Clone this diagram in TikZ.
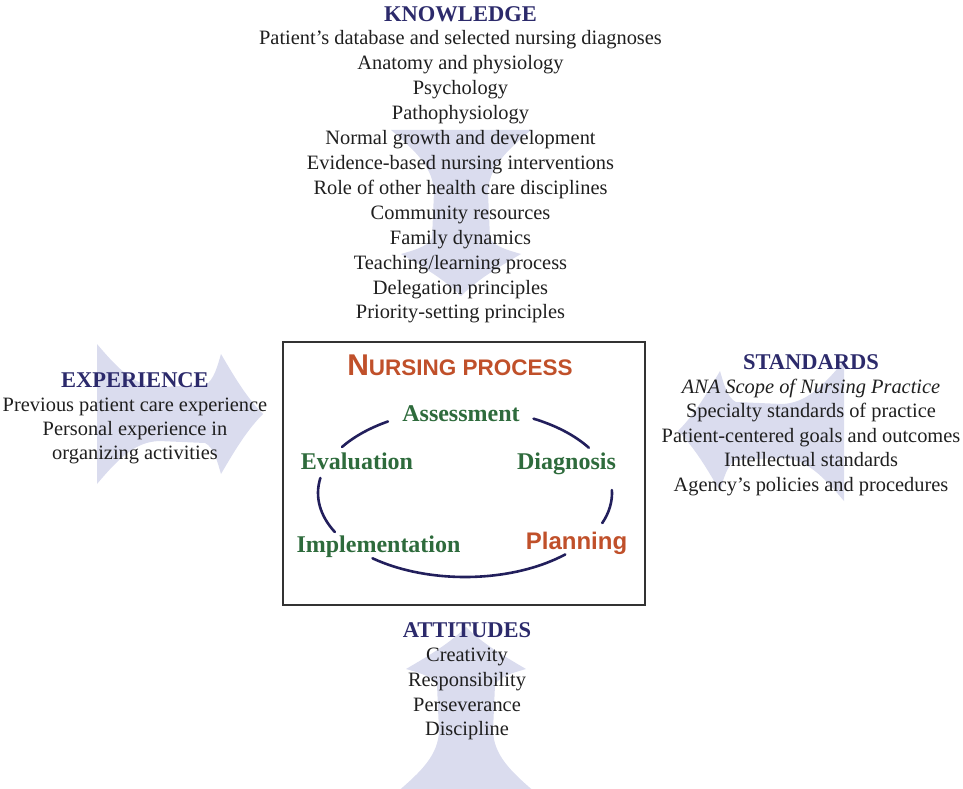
\documentclass[tikz,border=0pt]{standalone}
\usepackage{fontspec}
\setmainfont{Liberation Serif}
\newfontfamily\procfont{Liberation Sans}

\definecolor{headnavy}{HTML}{2C2A6B}
\definecolor{arcnavy}{HTML}{221F5C}
\definecolor{stagegreen}{HTML}{2E6B3C}
\definecolor{procorange}{HTML}{C0502A}
\definecolor{arrowfill}{HTML}{DADCEE}
\definecolor{boxgray}{HTML}{333333}

\tikzset{
	heading/.style={font=\fontsize{22.5}{27}\selectfont\bfseries, text=headnavy, inner sep=0pt, anchor=base},
	listitem/.style={font=\fontsize{20.4}{25}\selectfont, text=black!88, inner sep=0pt, anchor=base},
	stage/.style={font=\fontsize{24}{28}\selectfont\bfseries, text=stagegreen, inner sep=0pt, anchor=base},
	cyclearc/.style={draw=arcnavy, line width=2.6pt, line cap=round},
	procbox/.style={draw=boxgray, line width=1.8pt, minimum width=362pt, minimum height=263pt, inner sep=0pt},
	bigarrow/.pic={
		\fill[arrowfill] (0,-70) .. controls (22,-44) and (38,-28) .. (62,-27)
			-- (108,-29) .. controls (117,-33) and (121,-50) .. (124,-60)
			.. controls (138,-36) and (150,-16) .. (166,0)
			.. controls (150,16) and (138,36) .. (124,60)
			.. controls (121,50) and (117,33) .. (108,29)
			-- (62,27) .. controls (38,28) and (22,44) .. (0,70) -- cycle;
	},
}

\begin{document}
\begin{tikzpicture}[x=1pt, y=-1pt]
		\useasboundingbox (0,0) rectangle (963,789);
		% pale arrows behind the text
		\pic[rotate=-90] at (461,130) {bigarrow};
		\pic[rotate=90] at (466,793) {bigarrow};
		\pic at (97,414) {bigarrow};
		\pic[rotate=180] at (844,431) {bigarrow};
		
		% knowledge
		\node[heading] (know) at (460.5,22) {KNOWLEDGE};
		\foreach \txt [count=\i] in {Patient's database and selected nursing diagnoses,
			Anatomy and physiology, Psychology, Pathophysiology, Normal growth and development,
			Evidence-based nursing interventions, Role of other health care disciplines,
			Community resources, Family dynamics, Teaching/learning process,
			Delegation principles, Priority-setting principles}
			\node[listitem] (know\i) at (460.5,{20.1+24.9*\i}) {\txt};
		
		% experience
		\node[heading] (exper) at (135,387) {EXPERIENCE};
		\foreach \txt [count=\i] in {Previous patient care experience,
			Personal experience in, organizing activities}
			\node[listitem] (exper\i) at (135,{387+24*\i}) {\txt};
		
		% standards
		\node[heading] (stand) at (811,369) {STANDARDS};
		\foreach \txt [count=\i] in {{\itshape ANA Scope of Nursing Practice},
			Specialty standards of practice, Patient-centered goals and outcomes,
			Intellectual standards, Agency's policies and procedures}
			\node[listitem] (stand\i) at (811,{369+24.4*\i}) {\txt};
		
		% attitudes
		\node[heading] (attit) at (467,637) {ATTITUDES};
		\foreach \txt [count=\i] in {Creativity, Responsibility, Perseverance, Discipline}
			\node[listitem] (attit\i) at (467,{637+24.7*\i}) {\txt};
		
		% nursing process
		\node[procbox] (proc) at (464,473.5) {};
		\node[inner sep=0pt, anchor=base, text=procorange] (title) at (460,375)
			{\procfont\bfseries\fontsize{30}{30}\selectfont N\fontsize{22.5}{30}\selectfont URSING PROCESS};
		\node[stage] (assess) at (461,421) {Assessment};
		\node[stage] (diag) at (566.5,469) {Diagnosis};
		\node[stage, text=procorange, font=\procfont\bfseries\fontsize{24}{28}\selectfont] (plan) at (576.5,549) {Planning};
		\node[stage] (impl) at (378.5,552) {Implementation};
		\node[stage] (eval) at (357,469) {Evaluation};
		
		\coordinate (cyc) at (465,493);
		\foreach \s/\e in {121.6/146.8, 32.6/62.2, -21/2, -129/-47, 169.7/207.7}
			\draw[cyclearc] (cyc) ++(\s:147pt and 84pt) arc[start angle=\s, end angle=\e, x radius=147pt, y radius=84pt];
	\end{tikzpicture}
\end{document}
